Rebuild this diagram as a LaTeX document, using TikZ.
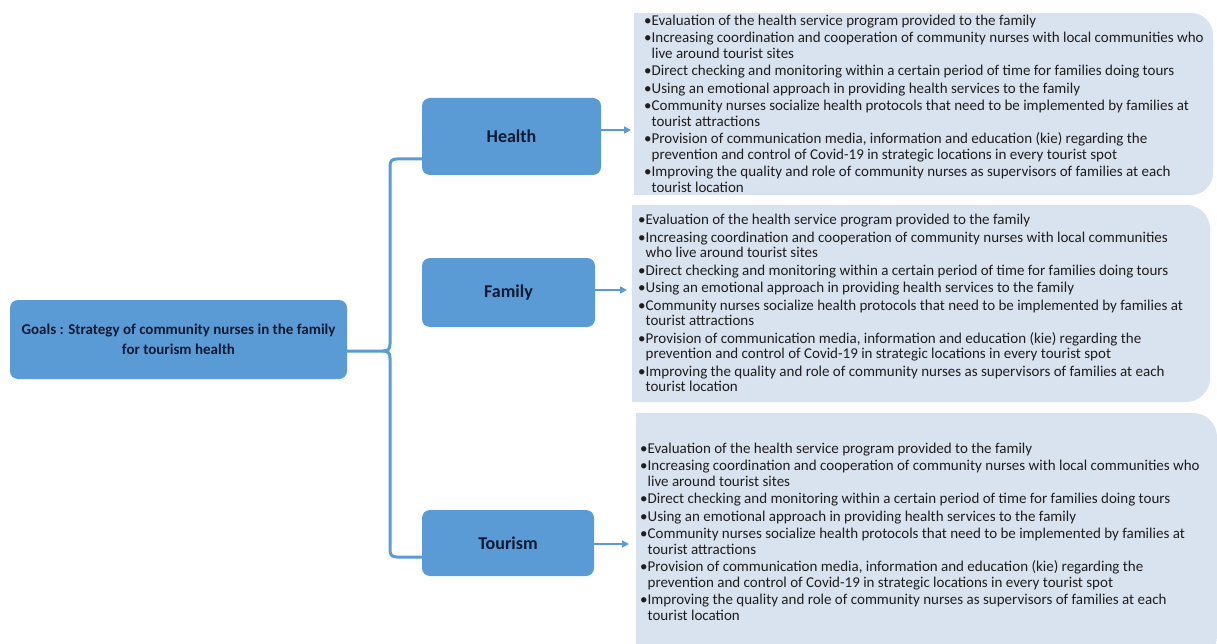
\documentclass[tikz,border=0pt]{standalone}
\usepackage{fontspec}
\setmainfont{Carlito}
\usetikzlibrary{arrows.meta}
\definecolor{boxblue}{HTML}{5B9BD5}
\definecolor{panelbg}{HTML}{D9E2EF}
\definecolor{navy}{HTML}{0B1A33}
\definecolor{txt}{HTML}{1E1E1E}
\newcommand{\bl}{\textbullet}
\newcommand{\ind}{\phantom{\textbullet}}
\tikzset{
  goalbox/.style={rounded corners=8pt, fill=boxblue, text=navy, inner sep=0pt,
    font=\bfseries\fontsize{15}{20}\selectfont, align=center},
  catbox/.style={rounded corners=8pt, fill=boxblue, text=navy, inner sep=0pt,
    font=\bfseries\fontsize{18}{21}\selectfont},
  brace/.style={draw=boxblue, line width=3pt},
  arr/.style={draw=boxblue, line width=1.6pt, -{Triangle[length=7pt,width=7pt]}},
  panel/.style={fill=panelbg},
  listtext/.style={anchor=north west, inner sep=0pt, align=left, text=txt,
    font=\fontsize{15}{15.5}\selectfont}
}
\begin{document}
\begin{tikzpicture}[x=1pt,y=-1pt]
\clip (0,0) rectangle (1217,644);
\fill[white] (0,0) rectangle (1217,644);

% panels
\fill[panel] (634,195) -- (634,13) [rounded corners=22pt] -- (1213,13) -- (1213,195) [sharp corners] -- cycle;
\fill[panel] (632,402) -- (632,205) [rounded corners=24pt] -- (1210,205) -- (1210,402) [sharp corners] -- cycle;
\fill[panel] (636,660) -- (636,413) [rounded corners=24pt] -- (1217,413) -- (1217,660) [sharp corners] -- cycle;

% boxes
\node[goalbox, minimum width=337pt, minimum height=79pt] (goal) at (178.5,339.5)
  {Goals : Strategy of community nurses in the family\\for tourism health};
\node[catbox, minimum width=179pt, minimum height=77pt] (health) at (511.5,136.5) {Health};
\node[catbox, minimum width=173pt, minimum height=69pt] (family) at (508.5,292.5) {Family};
\node[catbox, minimum width=172pt, minimum height=66pt] (tourism) at (508,543) {Tourism};

% brace
\coordinate (bt) at (390,159);
\coordinate (bb) at (390,557);
\coordinate (bm) at (390,351);
\draw[brace] (health.west |- bt) -- (397,159) .. controls (392,159) and (390,161) .. (390,166)
  -- (390,344) .. controls (390,349) and (388,351) .. (383,351) -- (goal.east |- bm);
\draw[brace] (383,351) .. controls (388,351) and (390,353) .. (390,358)
  -- (390,550) .. controls (390,555) and (392,557) .. (397,557) -- (tourism.west |- bb);

% arrows
\coordinate (a1) at (631,130);
\coordinate (a2) at (627,290);
\coordinate (a3) at (629,544);
\draw[arr] (health.east |- a1) -- (a1);
\draw[arr] (family.east |- a2) -- (a2);
\draw[arr] (tourism.east |- a3) -- (a3);

% texts
\node[listtext] (t1) at (644,14.5) {%
\bl Evaluation of the health service program provided to the family\\[2pt]
\bl Increasing coordination and cooperation of community nurses with local communities who\\
\ind live around tourist sites\\[2pt]
\bl Direct checking and monitoring within a certain period of time for families doing tours\\[2pt]
\bl Using an emotional approach in providing health services to the family\\[2pt]
\bl Community nurses socialize health protocols that need to be implemented by families at\\
\ind tourist attractions\\[2pt]
\bl Provision of communication media, information and education (kie) regarding the\\
\ind prevention and control of Covid-19 in strategic locations in every tourist spot\\[2pt]
\bl Improving the quality and role of community nurses as supervisors of families at each\\
\ind tourist location};

\node[listtext] (t2) at (638,214) {%
\bl Evaluation of the health service program provided to the family\\[2pt]
\bl Increasing coordination and cooperation of community nurses with local communities\\
\ind who live around tourist sites\\[2pt]
\bl Direct checking and monitoring within a certain period of time for families doing tours\\[2pt]
\bl Using an emotional approach in providing health services to the family\\[2pt]
\bl Community nurses socialize health protocols that need to be implemented by families at\\
\ind tourist attractions\\[2pt]
\bl Provision of communication media, information and education (kie) regarding the\\
\ind prevention and control of Covid-19 in strategic locations in every tourist spot\\[2pt]
\bl Improving the quality and role of community nurses as supervisors of families at each\\
\ind tourist location};

\node[listtext] (t3) at (640,442.5) {%
\bl Evaluation of the health service program provided to the family\\[2pt]
\bl Increasing coordination and cooperation of community nurses with local communities who\\
\ind live around tourist sites\\[2pt]
\bl Direct checking and monitoring within a certain period of time for families doing tours\\[2pt]
\bl Using an emotional approach in providing health services to the family\\[2pt]
\bl Community nurses socialize health protocols that need to be implemented by families at\\
\ind tourist attractions\\[2pt]
\bl Provision of communication media, information and education (kie) regarding the\\
\ind prevention and control of Covid-19 in strategic locations in every tourist spot\\[2pt]
\bl Improving the quality and role of community nurses as supervisors of families at each\\
\ind tourist location};
\end{tikzpicture}
\end{document}
